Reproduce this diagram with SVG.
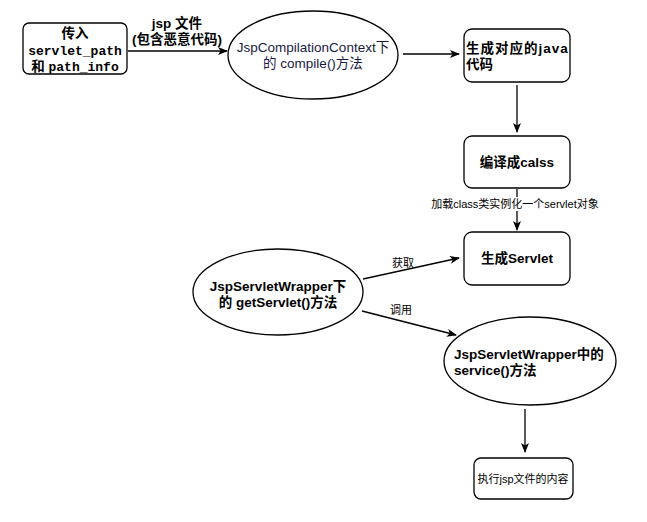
<svg xmlns="http://www.w3.org/2000/svg" width="647" height="522" viewBox="0 0 647 522">
<style>
.n{fill:#fff;stroke:#000;stroke-width:1.3}
.t{font-family:"Liberation Sans","Noto Sans CJK SC",sans-serif;font-size:13.5px;fill:#000}
.b{font-weight:bold}
.m{font-family:"Liberation Mono","Noto Sans CJK SC",monospace;font-weight:bold;font-size:13px}
.s{font-size:11px}
.d{fill:#1a1a40}
.e{stroke:#000;stroke-width:1.3;fill:none;marker-end:url(#a)}
</style>
<defs>
<marker id="a" viewBox="0 0 10 10" refX="9" refY="5" markerWidth="10" markerHeight="10" markerUnits="userSpaceOnUse" orient="auto">
<path d="M0,1 L10,5 L0,9 L2.5,5 Z" fill="#000"/>
</marker>
</defs>
<g id="connectors">
<line class="e" x1="128" y1="51" x2="227" y2="51"/>
<line class="e" x1="403" y1="54" x2="459" y2="54"/>
<line class="e" x1="517" y1="85" x2="517" y2="132"/>
<line class="e" x1="517" y1="189" x2="517" y2="230"/>
<line class="e" x1="363" y1="279" x2="459" y2="258"/>
<line class="e" x1="362" y1="311" x2="456" y2="335"/>
<line class="e" x1="525" y1="409" x2="525" y2="452"/>
<text class="t b" x="177" y="28" text-anchor="middle">jsp 文件</text>
<text class="t b" x="177" y="44" text-anchor="middle">(包含恶意代码)</text>
<rect x="434" y="197" width="162" height="14" fill="#fff"/>
<text class="t s" x="515" y="208" text-anchor="middle">加载class类实例化一个servlet对象</text>
<text class="t s" x="403" y="267" text-anchor="middle">获取</text>
<text class="t s" x="401" y="314" text-anchor="middle">调用</text>
</g>
<g id="n1">
<rect class="n" x="23" y="23" width="104" height="51" rx="6"/>
<text class="t b" x="75" y="38" text-anchor="middle">传入</text>
<text class="m" x="75" y="55" text-anchor="middle">servlet_path</text>
<text x="75" y="71" text-anchor="middle"><tspan class="t b">和 </tspan><tspan class="m">path_info</tspan></text>
</g>
<g id="n2">
<ellipse class="n" cx="313" cy="55" rx="85" ry="44"/>
<text class="t d" x="313" y="52" text-anchor="middle">JspCompilationContext下</text>
<text class="t d" x="313" y="68" text-anchor="middle">的 compile()方法</text>
</g>
<g id="n3">
<rect class="n" x="464" y="29" width="106" height="53" rx="8"/>
<text class="t b" x="466" y="53" letter-spacing="1">生成对应的java</text>
<text class="t b" x="466" y="69">代码</text>
</g>
<g id="n4">
<rect class="n" x="464" y="136" width="106" height="52" rx="8"/>
<text class="t b" x="517" y="167" text-anchor="middle">编译成calss</text>
</g>
<g id="n5">
<rect class="n" x="464" y="232" width="106" height="53" rx="8"/>
<text class="t b" x="517" y="263" text-anchor="middle">生成Servlet</text>
</g>
<g id="n6">
<ellipse class="n" cx="278" cy="292" rx="85" ry="43"/>
<text class="t b" x="278" y="291" text-anchor="middle">JspServletWrapper下</text>
<text class="t b" x="278" y="307" text-anchor="middle">的 getServlet()方法</text>
</g>
<g id="n7">
<ellipse class="n" cx="530" cy="361" rx="86" ry="44"/>
<text class="t b" x="454" y="359">JspServletWrapper中的</text>
<text class="t b" x="454" y="375">service()方法</text>
</g>
<g id="n8">
<rect class="n" x="474" y="458" width="99" height="41" rx="7"/>
<text class="t s" x="523" y="483" text-anchor="middle">执行jsp文件的内容</text>
</g>
</svg>
